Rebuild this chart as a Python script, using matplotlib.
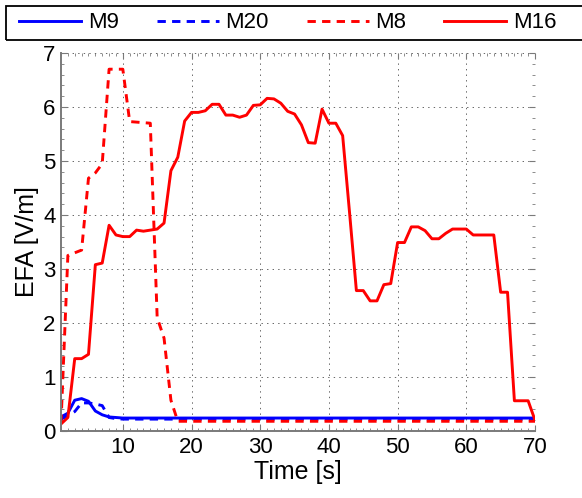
import numpy as np
import matplotlib
matplotlib.use('Agg')
import matplotlib.pyplot as plt
from matplotlib.patches import Rectangle
from matplotlib.ticker import MultipleLocator

plt.rcParams['font.family'] = ['Liberation Sans', 'DejaVu Sans']
plt.rcParams['lines.scale_dashes'] = False

# Campo eléctrico medido cada segundo
time_s = list(range(1, 71))

m9 = [0.26, 0.33, 0.57, 0.60, 0.55, 0.37, 0.30, 0.26, 0.25] + [0.24] * 61

m20 = [0.22, 0.28, 0.36, 0.52, 0.52, 0.50, 0.47, 0.25, 0.23] + [0.22] * 61

m8 = [0.15, 3.25, 3.30, 3.35, 4.68, 4.78, 4.95, 6.70, 6.70, 6.70,
      5.73, 5.72, 5.71, 5.70, 2.10, 1.72, 0.57, 0.18] + [0.18] * 52

m16 = [0.13, 0.25, 1.34, 1.34, 1.42, 3.08, 3.11, 3.81, 3.63, 3.60,
       3.60, 3.72, 3.70, 3.72, 3.74, 3.85, 4.82, 5.07, 5.74, 5.90,
       5.90, 5.93, 6.05, 6.05, 5.85, 5.85, 5.81, 5.85, 6.03, 6.04,
       6.16, 6.15, 6.07, 5.92, 5.87, 5.67, 5.34, 5.33, 5.96, 5.70,
       5.70, 5.47, 4.05, 2.60, 2.60, 2.41, 2.41, 2.71, 2.73, 3.49,
       3.49, 3.78, 3.78, 3.71, 3.56, 3.56, 3.66, 3.74, 3.74, 3.74,
       3.63, 3.63, 3.63, 3.63, 2.57, 2.57, 0.56, 0.56, 0.56, 0.20]

series = [('M9', m9, 'blue', '-'),
          ('M20', m20, 'blue', '--'),
          ('M8', m8, 'red', '--'),
          ('M16', m16, 'red', '-')]

W, H = 582, 498
fig = plt.figure(figsize=(W / 100, H / 100), dpi=100)
ax = fig.add_axes([61 / W, 1 - 431 / H, 474 / W, 378 / H])

handles = []
for name, vals, color, style in series:
    line, = ax.plot(time_s, vals, color=color, linewidth=2.1, label=name)
    if style == '--':
        line.set_dashes((6, 4.5))
    handles.append(line)

ax.set_xlim(1, 70)
ax.set_ylim(0, 7)
ax.xaxis.set_major_locator(MultipleLocator(10))
ax.yaxis.set_major_locator(MultipleLocator(1))
ax.xaxis.set_minor_locator(MultipleLocator(1))
ax.yaxis.set_minor_locator(MultipleLocator(0.2))
ax.grid(True, which='major', linestyle=(0, (1, 3)), color='#666666', linewidth=0.7)

gray = '#7a7a7a'
for side in ['left', 'bottom']:
    ax.spines[side].set_color(gray)
    ax.spines[side].set_linewidth(1.4)
for side in ['top', 'right']:
    ax.spines[side].set_visible(False)
ax.tick_params(which='both', direction='in', color=gray, top=True, right=True,
               labelsize=16, pad=4)
ax.tick_params(which='major', length=4)
ax.tick_params(which='minor', length=2)

ax.set_xlabel('Time [s]', fontsize=18, labelpad=2)
ax.set_ylabel('EFA [V/m]', fontsize=18, labelpad=3)

# leyenda horizontal arriba, con el marco hasta el borde derecho
fig.legend(handles=handles, loc='center left', ncol=4,
           bbox_to_anchor=(19 / W, 1 - 23 / H), frameon=False,
           fontsize=16, handlelength=2.8, handletextpad=0.3,
           columnspacing=1.7, borderpad=0, borderaxespad=0)
fig.patches.append(Rectangle((6 / W, 1 - 40 / H), 600 / W, 34 / H,
                             transform=fig.transFigure, fill=False,
                             edgecolor='black', linewidth=1.3))

fig.savefig('out.png', dpi=100)
